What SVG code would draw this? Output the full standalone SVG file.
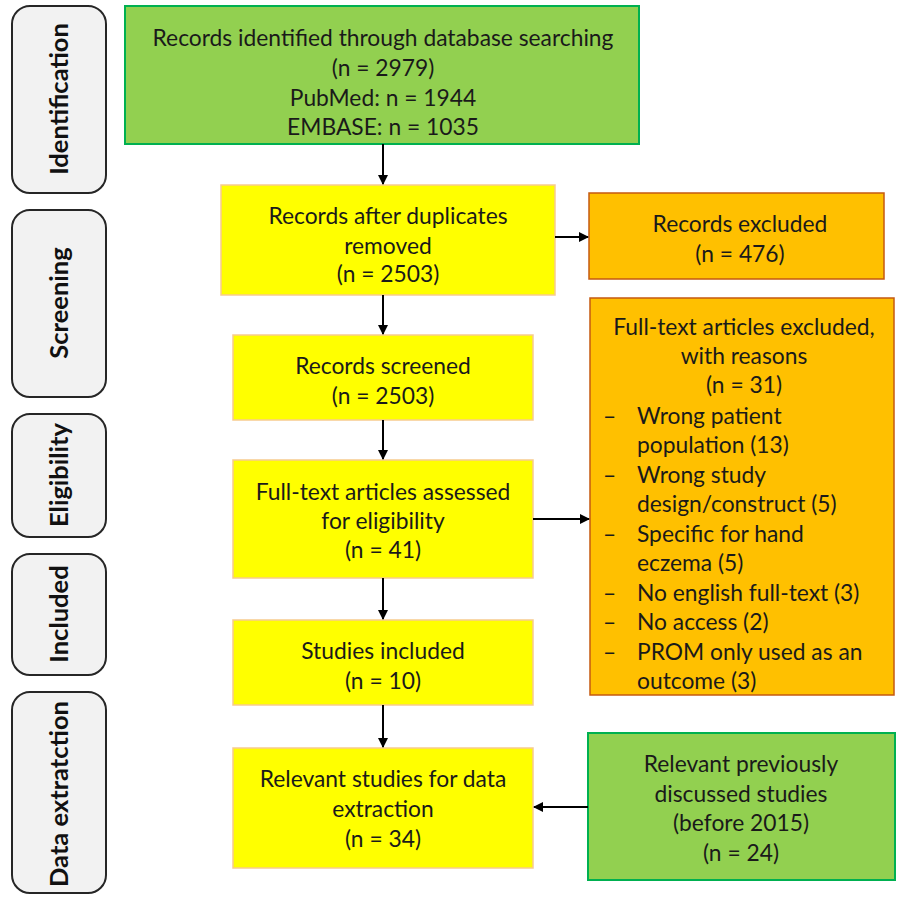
<svg xmlns="http://www.w3.org/2000/svg" width="898" height="898" viewBox="0 0 898 898">
<defs>
<marker id="ah" markerWidth="10" markerHeight="10" refX="9" refY="5" orient="auto" markerUnits="userSpaceOnUse">
<path d="M0,0 L10,5 L0,10 z" fill="#000"/>
</marker>
<style>
text{font-family:Lato,"Liberation Sans",sans-serif;font-size:22.8px;fill:#1a1a1a;text-anchor:middle}
.stage rect{fill:#f2f2f2;stroke:#262626;stroke-width:2}
.stage text{font-weight:bold;font-size:25.5px;fill:#111}
.green{fill:#92d050;stroke:#00b050;stroke-width:2}
.yellow{fill:#ffff00;stroke:#f8cb8e;stroke-width:1.5}
.orange{fill:#ffc000;stroke:#c55a11;stroke-width:1.5}
.lt{text-anchor:start}
#connectors line{stroke:#000;stroke-width:2;marker-end:url(#ah)}
</style>
</defs>
<rect width="898" height="898" fill="#fff"/>

<g id="stage-identification" class="stage"><rect x="12" y="6" width="94" height="187" rx="18"/><text transform="translate(68,99) rotate(-90)">Identification</text></g>
<g id="stage-screening" class="stage"><rect x="12" y="210" width="94" height="187" rx="18"/><text transform="translate(68,303) rotate(-90)">Screening</text></g>
<g id="stage-eligibility" class="stage"><rect x="12" y="414" width="94" height="123" rx="18"/><text transform="translate(68,475) rotate(-90)">Eligibility</text></g>
<g id="stage-included" class="stage"><rect x="12" y="554" width="94" height="121" rx="18"/><text transform="translate(68,614) rotate(-90)">Included</text></g>
<g id="stage-extraction" class="stage"><rect x="12" y="692" width="94" height="201" rx="18"/><text transform="translate(68,794) rotate(-90)">Data extratction</text></g>

<g id="identified"><rect class="green" x="125" y="6" width="514" height="138"/>
<text x="383" y="46">Records identified through database searching</text>
<text x="383" y="76">(n = 2979)</text>
<text x="383" y="106">PubMed: n = 1944</text>
<text x="383" y="135">EMBASE: n = 1035</text></g>

<g id="dedup"><rect class="yellow" x="221" y="185" width="334" height="110"/>
<text x="388" y="224">Records after duplicates</text>
<text x="388" y="254">removed</text>
<text x="388" y="282">(n = 2503)</text></g>

<g id="excluded1"><rect class="orange" x="589" y="193" width="295" height="86"/>
<text x="740" y="232">Records excluded</text>
<text x="740" y="262">(n = 476)</text></g>

<g id="screened"><rect class="yellow" x="233" y="335" width="300" height="85"/>
<text x="383" y="374">Records screened</text>
<text x="383" y="404">(n = 2503)</text></g>

<g id="fulltext"><rect class="yellow" x="233" y="460" width="300" height="118"/>
<text x="383" y="500">Full-text articles assessed</text>
<text x="383" y="529">for eligibility</text>
<text x="383" y="558">(n = 41)</text></g>

<g id="excluded2"><rect class="orange" x="590" y="298" width="304" height="397"/>
<text x="744" y="335">Full-text articles excluded,</text>
<text x="744" y="364">with reasons</text>
<text x="744" y="393">(n = 31)</text>
<text class="lt" x="603" y="424">–</text><text class="lt" x="637" y="424">Wrong patient</text>
<text class="lt" x="637" y="453">population (13)</text>
<text class="lt" x="603" y="483">–</text><text class="lt" x="637" y="483">Wrong study</text>
<text class="lt" x="637" y="512">design/construct (5)</text>
<text class="lt" x="603" y="542">–</text><text class="lt" x="637" y="542">Specific for hand</text>
<text class="lt" x="637" y="571">eczema (5)</text>
<text class="lt" x="603" y="601">–</text><text class="lt" x="637" y="601">No english full-text (3)</text>
<text class="lt" x="603" y="630">–</text><text class="lt" x="637" y="630">No access (2)</text>
<text class="lt" x="603" y="660">–</text><text class="lt" x="637" y="660">PROM only used as an</text>
<text class="lt" x="637" y="689">outcome (3)</text></g>

<g id="included"><rect class="yellow" x="233" y="620" width="300" height="85"/>
<text x="383" y="659">Studies included</text>
<text x="383" y="689">(n = 10)</text></g>

<g id="relevant"><rect class="yellow" x="233" y="748" width="300" height="120"/>
<text x="383" y="787">Relevant studies for data</text>
<text x="383" y="817">extraction</text>
<text x="383" y="847">(n = 34)</text></g>

<g id="previous"><rect class="green" x="588" y="733" width="307" height="147"/>
<text x="741" y="772">Relevant previously</text>
<text x="741" y="802">discussed studies</text>
<text x="741" y="831">(before 2015)</text>
<text x="741" y="861">(n = 24)</text></g>

<g id="connectors">
<line x1="383" y1="144" x2="383" y2="184"/>
<line x1="383" y1="295" x2="383" y2="334"/>
<line x1="383" y1="420" x2="383" y2="459"/>
<line x1="383" y1="578" x2="383" y2="619"/>
<line x1="383" y1="705" x2="383" y2="747"/>
<line x1="555" y1="237" x2="588" y2="237"/>
<line x1="533" y1="519" x2="589" y2="519"/>
<line x1="588" y1="807" x2="534" y2="807"/>
</g>
</svg>
